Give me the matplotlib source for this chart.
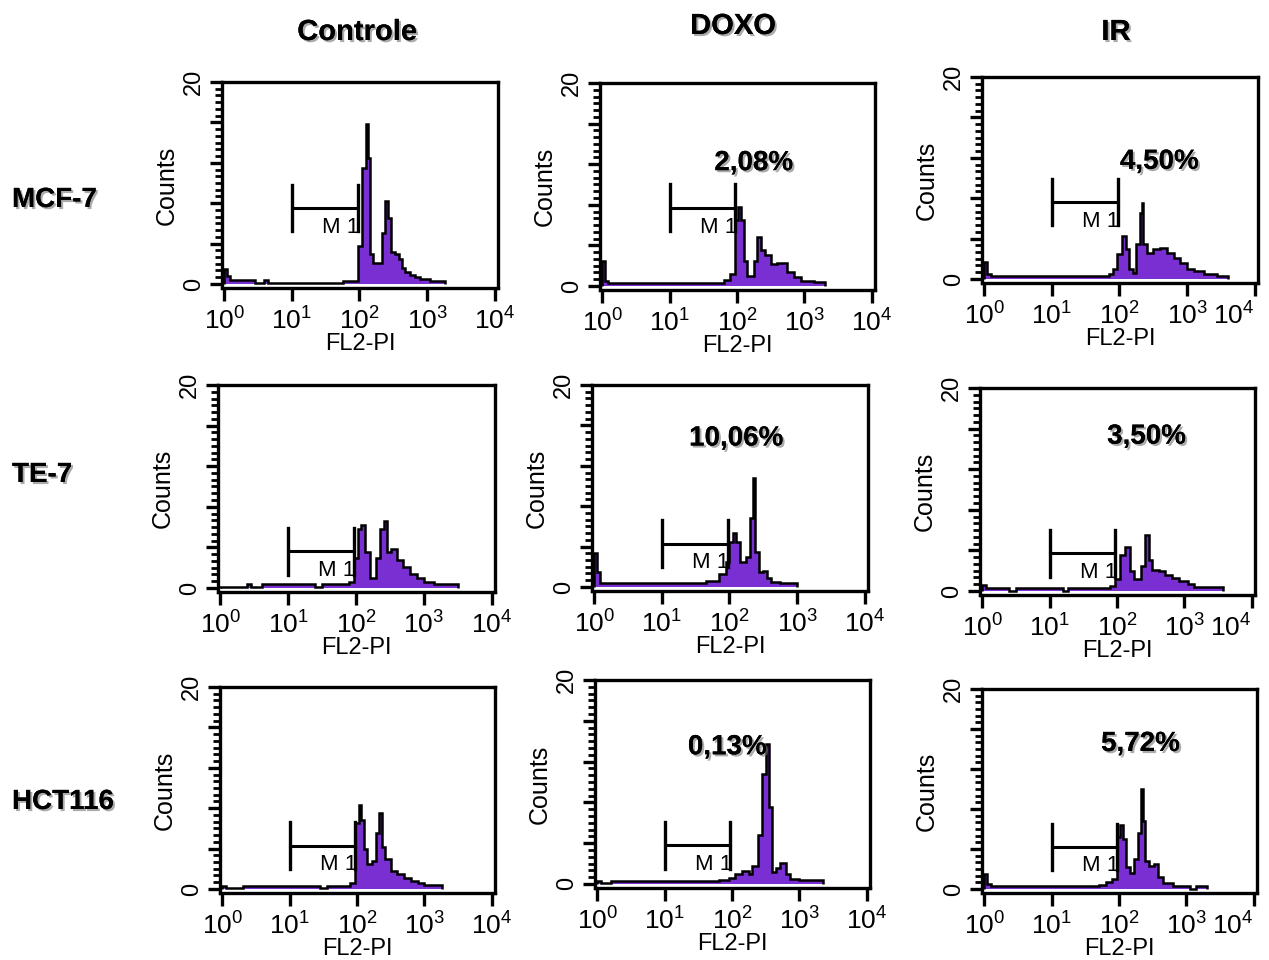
import numpy as np
import matplotlib
matplotlib.use("Agg")
import matplotlib.pyplot as plt
import matplotlib.patheffects as pe
from matplotlib.ticker import FixedLocator, LogLocator, AutoMinorLocator, NullFormatter

plt.rcParams['font.family'] = ['Liberation Sans', 'DejaVu Sans']
plt.rcParams['mathtext.fontset'] = 'custom'
plt.rcParams['mathtext.rm'] = 'Liberation Sans'

conditions = ["Controle", "DOXO", "IR"]
cell_lines = ["MCF-7", "TE-7", "HCT116"]

# FL2-PI histograms: bin edges in log10(channel) and counts per bin
mcf7_ctrl_edges = [0.0, 0.04, 0.08, 0.45, 0.58, 0.64, 1.76, 1.98, 2.04, 2.09, 2.12, 2.15, 2.2,
                   2.33, 2.38, 2.42, 2.46, 2.52, 2.58, 2.63, 2.68, 2.75, 2.82, 2.9, 3.05, 3.27]
mcf7_ctrl_counts = [1.5, 0.8, 0.35, 0.05, 0.35, 0.05, 0.3, 3.8, 11.5, 15.8, 12.5, 3.0, 2.1,
                    5.0, 8.2, 6.5, 3.2, 3.0, 2.5, 1.6, 1.2, 0.9, 0.7, 0.5, 0.3]

mcf7_doxo_edges = [0.0, 0.04, 0.08, 1.8, 1.9, 1.97, 2.02, 2.06, 2.1, 2.15, 2.25, 2.3, 2.36,
                   2.42, 2.5, 2.6, 2.75, 2.85, 2.95, 3.15, 3.3]
mcf7_doxo_counts = [2.5, 0.5, 0.3, 0.6, 1.2, 6.5, 7.8, 6.5, 2.5, 1.0, 2.5, 4.8,
                    3.5, 3.0, 2.2, 2.3, 1.4, 0.9, 0.5, 0.35]

mcf7_ir_edges = [0.0, 0.04, 0.1, 1.85, 1.9, 1.97, 2.03, 2.1, 2.14, 2.2, 2.24, 2.3, 2.33, 2.35,
                 2.4, 2.5, 2.6, 2.7, 2.8, 2.9, 3.0, 3.1, 3.25, 3.45, 3.6]
mcf7_ir_counts = [1.7, 0.5, 0.3, 0.5, 1.0, 2.5, 4.3, 3.0, 1.0, 0.6, 3.5, 6.5, 7.5,
                  3.5, 2.6, 3.0, 3.1, 2.6, 2.1, 1.6, 1.0, 0.8, 0.5, 0.3]

te7_ctrl_edges = [0.0, 0.4, 0.45, 0.62, 1.4, 1.5, 1.9, 1.97, 2.03, 2.08, 2.14, 2.2, 2.3, 2.36,
                  2.42, 2.45, 2.52, 2.6, 2.7, 2.8, 2.9, 3.0, 3.15, 3.5]
te7_ctrl_counts = [0.05, 0.4, 0.1, 0.35, 0.1, 0.35, 0.6, 3.0, 5.8, 6.2, 3.5, 1.0, 3.0,
                   5.8, 6.6, 3.5, 3.8, 2.8, 2.1, 1.4, 1.0, 0.6, 0.35]

te7_doxo_edges = [0.0, 0.04, 0.08, 1.65, 1.85, 1.95, 2.0, 2.05, 2.1, 2.15, 2.25, 2.3, 2.35,
                  2.38, 2.43, 2.5, 2.56, 2.62, 2.75, 3.0]
te7_doxo_counts = [3.4, 1.5, 0.35, 0.6, 1.3, 2.5, 4.5, 5.3, 4.5, 2.5, 3.0, 6.8,
                   10.8, 3.5, 1.5, 1.6, 0.9, 0.5, 0.35]

te7_ir_edges = [0.0, 0.05, 0.4, 0.5, 1.2, 1.27, 1.9, 1.97, 2.05, 2.12, 2.2, 2.25, 2.35, 2.42,
                2.47, 2.52, 2.62, 2.72, 2.82, 2.92, 3.05, 3.15, 3.57]
te7_ir_counts = [0.6, 0.25, 0.0, 0.25, 0.0, 0.25, 0.5, 1.2, 3.5, 4.3, 2.0, 1.2, 2.5,
                 5.5, 3.0, 2.1, 2.0, 1.6, 1.3, 1.0, 0.7, 0.35]

hct_ctrl_edges = [0.0, 0.05, 0.3, 1.45, 1.55, 1.9, 1.97, 2.03, 2.06, 2.1, 2.15, 2.22, 2.28,
                  2.32, 2.37, 2.42, 2.5, 2.6, 2.7, 2.8, 2.9, 3.0, 3.26]
hct_ctrl_counts = [0.3, 0.05, 0.3, 0.05, 0.3, 0.6, 6.5, 8.3, 6.8, 4.0, 2.5, 2.8,
                   5.5, 7.5, 4.2, 3.0, 1.8, 1.5, 1.1, 0.8, 0.6, 0.35]

hct_doxo_edges = [0.0, 0.05, 0.2, 1.8, 1.95, 2.05, 2.15, 2.25, 2.3, 2.38, 2.44, 2.5, 2.55,
                  2.6, 2.66, 2.72, 2.8, 2.86, 3.0, 3.35]
hct_doxo_counts = [0.3, 0.1, 0.3, 0.4, 0.6, 1.0, 1.3, 1.0, 1.8, 4.8, 10.8, 13.7,
                   7.5, 1.2, 1.6, 2.1, 1.0, 0.5, 0.35]

hct_ir_edges = [0.0, 0.04, 0.1, 1.7, 1.8, 1.9, 1.97, 2.02, 2.06, 2.1, 2.17, 2.22, 2.28, 2.32,
                2.35, 2.38, 2.45, 2.52, 2.58, 2.65, 2.8, 3.05, 3.15, 3.3]
hct_ir_counts = [1.5, 0.5, 0.3, 0.4, 0.7, 1.0, 5.2, 6.4, 5.0, 2.2, 1.6, 3.0, 5.6,
                 10.0, 6.8, 2.8, 2.3, 2.5, 1.2, 0.6, 0.3, 0.05, 0.3]

hist_edges = [mcf7_ctrl_edges, mcf7_doxo_edges, mcf7_ir_edges,
              te7_ctrl_edges, te7_doxo_edges, te7_ir_edges,
              hct_ctrl_edges, hct_doxo_edges, hct_ir_edges]
hist_counts = [mcf7_ctrl_counts, mcf7_doxo_counts, mcf7_ir_counts,
               te7_ctrl_counts, te7_doxo_counts, te7_ir_counts,
               hct_ctrl_counts, hct_doxo_counts, hct_ir_counts]

# M1 gate (10 to ~95) and the % of events inside it
m1_gate = (10, 95)
m1_height = [7.5, 7.7, 7.6, 3.6, 4.3, 3.7, 4.3, 3.8, 4.25]
m1_percent = ["", "2,08%", "4,50%", "", "10,06%", "3,50%", "", "0,13%", "5,72%"]
pct_pos = [None, (10**2.25, 12.1), (10**2.59, 11.6),
           None, (10**2.10, 14.7), (10**2.44, 15.2),
           None, (10**1.93, 13.4), (10**2.32, 14.5)]

# panel boxes in pixels: left, top, right, bottom
W, H = 1269, 960
boxes = [(222, 82, 498, 288), (600, 83, 875, 290), (982, 77, 1258, 283),
         (218, 385, 495, 592), (592, 385, 868, 591), (980, 388, 1255, 595),
         (220, 687, 495, 893), (595, 680, 870, 888), (982, 689, 1257, 893)]

purple = '#7A2FD2'
shadow = [pe.withSimplePatchShadow(offset=(1.5, -1.5), shadow_rgbFace='0.45', alpha=0.6), pe.Normal()]

fig = plt.figure(figsize=(W / 100, H / 100), dpi=100)

for i in range(9):
    l, t, r, b = boxes[i]
    ax = fig.add_axes([l / W, 1 - b / H, (r - l) / W, (b - t) / H])
    edges = 10 ** np.array(hist_edges[i])
    counts = np.array(hist_counts[i])
    ax.stairs(counts, edges, fill=True, color=purple, lw=0)
    ax.stairs(counts, edges, color='black', lw=1.8)

    ax.set_xscale('log')
    ax.set_xlim(10 ** -0.035, 10 ** 4.05)
    ax.set_ylim(-0.4, 20)

    # M1 marker
    g0, g1 = m1_gate
    yb = m1_height[i]
    ax.plot([g0, g1], [yb, yb], color='black', lw=2.2)
    ax.plot([g0, g0], [yb - 2.3, yb + 2.3], color='black', lw=2.4)
    ax.plot([g1, g1], [yb - 2.3, yb + 2.3], color='black', lw=2.4)
    ax.text(10 ** 1.72, yb - 1.9, "M 1", ha='center', va='center', fontsize=16)

    if m1_percent[i]:
        px, py = pct_pos[i]
        ax.text(px, py, m1_percent[i], ha='center', va='center', fontsize=20,
                fontweight='bold', path_effects=shadow)

    ax.xaxis.set_major_locator(FixedLocator([1, 10, 100, 1000, 10000]))
    xlabels = ax.set_xticklabels([r'$\mathregular{10^{%d}}$' % k for k in range(5)])
    if i % 3 == 2:
        # right column sits against the figure edge
        xlabels[-1].set_ha('right')
    ax.xaxis.set_minor_locator(LogLocator(base=10, subs=np.arange(2, 10)))
    ax.xaxis.set_minor_formatter(NullFormatter())
    ax.yaxis.set_major_locator(FixedLocator([0, 4, 8, 12, 16, 20]))
    ax.set_yticklabels(['0', '', '', '', '', '20'], rotation=90, va='center')
    ax.yaxis.set_minor_locator(AutoMinorLocator(6))

    ax.tick_params(which='major', direction='out', length=9, width=2.4, labelsize=19, pad=5)
    ax.tick_params(axis='y', which='major', labelsize=17, pad=3)
    ax.tick_params(which='minor', direction='out', length=5, width=2.0)
    for s in ax.spines.values():
        s.set_linewidth(2.4)

    ax.set_xlabel('FL2-PI', fontsize=17, labelpad=-1)
    ax.set_ylabel('Counts', fontsize=18, labelpad=3)

col_centers = [357, 733, 1116]
col_y = [32, 26, 32]
for name, cx, cy in zip(conditions, col_centers, col_y):
    fig.text(cx / W, 1 - cy / H, name, ha='center', va='center', fontsize=21,
             fontweight='bold', path_effects=shadow)

row_y = [200, 475, 802]
for name, ry in zip(cell_lines, row_y):
    fig.text(12 / W, 1 - ry / H, name, ha='left', va='center', fontsize=20,
             fontweight='bold', path_effects=shadow)

fig.savefig('out.png', dpi=100)
